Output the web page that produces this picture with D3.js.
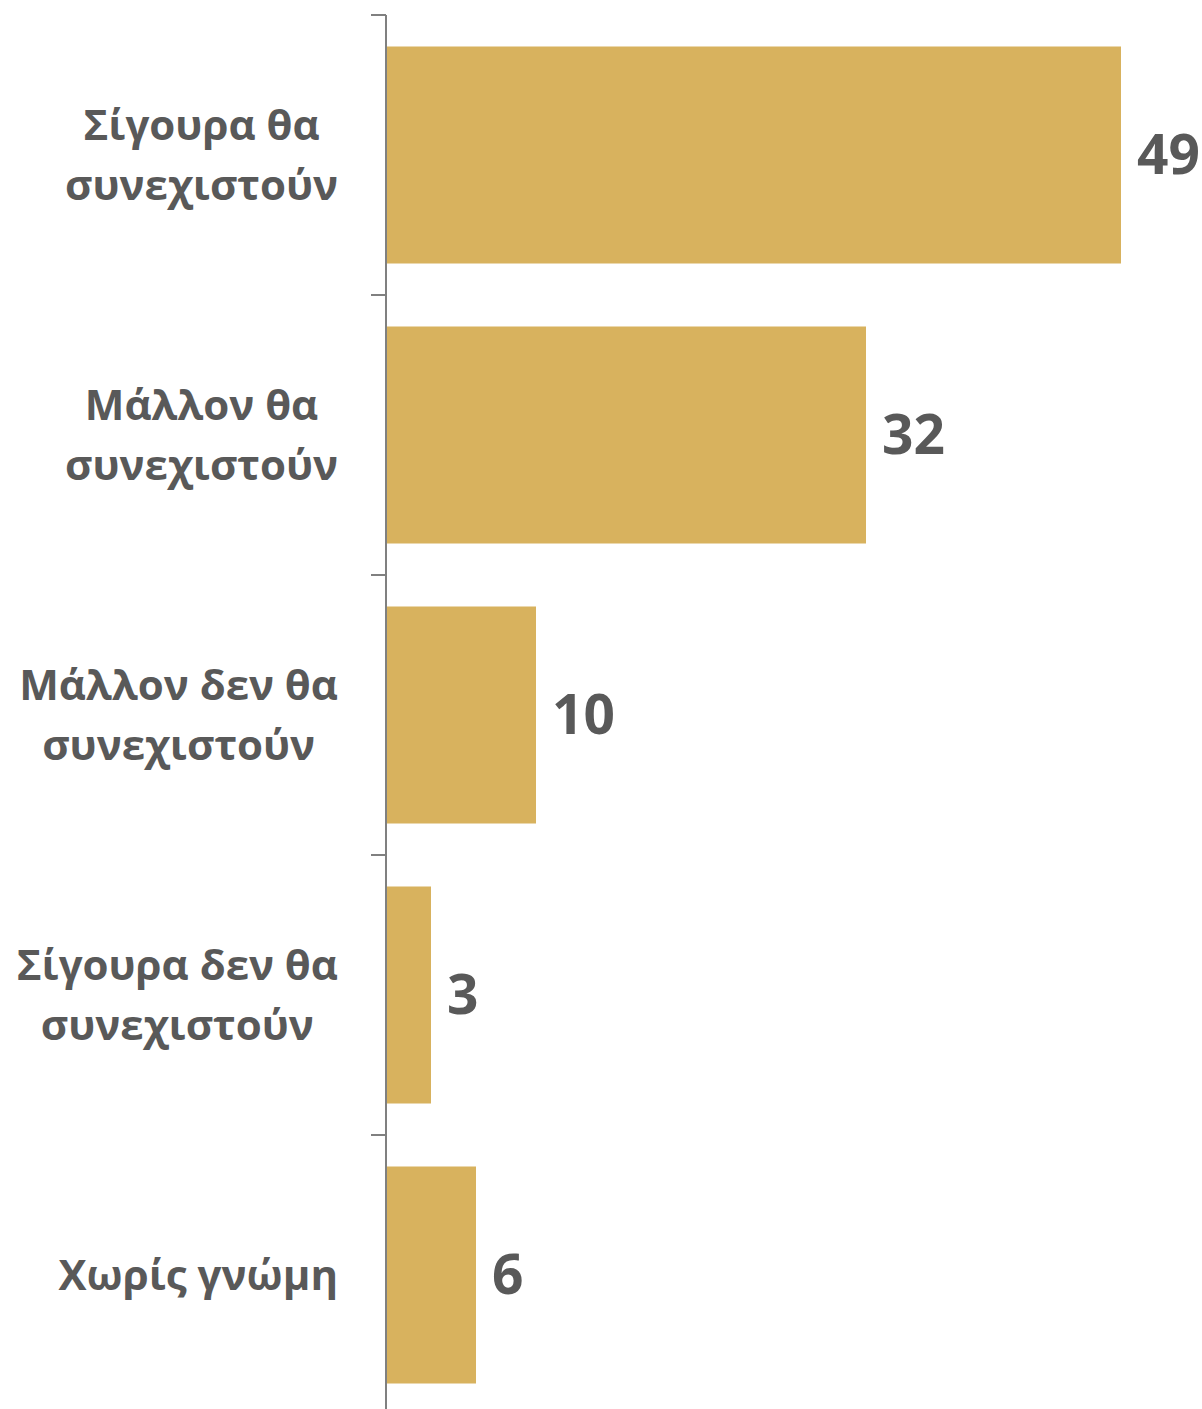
<!DOCTYPE html>
<html><head><meta charset="utf-8">
<script src="https://cdn.jsdelivr.net/npm/d3@7"></script>
<style>body{margin:0;background:#fff}svg{display:block}</style>
</head><body>
<svg id="c" width="1202" height="1409"></svg>
<script>
const categories = ["Σίγουρα θα συνεχιστούν","Μάλλον θα συνεχιστούν","Μάλλον δεν θα συνεχιστούν","Σίγουρα δεν θα συνεχιστούν","Χωρίς γνώμη"];
const categoryLines = [["Σίγουρα θα","συνεχιστούν"],["Μάλλον θα","συνεχιστούν"],["Μάλλον δεν θα","συνεχιστούν"],["Σίγουρα δεν θα","συνεχιστούν"],["Χωρίς γνώμη"]];
const values = [49,32,10,3,6];

const svg = d3.select("#c");
const x0 = 386;
const x = d3.scaleLinear().domain([0,49]).range([x0, 1121]);
const y = d3.scaleBand().domain(categories).range([15,1415]).paddingInner(0.225).paddingOuter(0.1125);

const fontFam = "'Open Sans', sans-serif";
const txtColor = "#595959";

svg.selectAll("rect.bar").data(values).join("rect")
  .attr("class","bar")
  .attr("x", x0)
  .attr("y",(d,i)=>y(categories[i]))
  .attr("width", d=>x(d)-x0)
  .attr("height", y.bandwidth())
  .attr("fill","#D8B25E");

// axis line + ticks between bands
const boundaries = d3.range(categories.length+1).map(i=>15+i*280);
svg.append("line").attr("x1",x0).attr("x2",x0).attr("y1",15).attr("y2",1415)
  .attr("stroke","#808080").attr("stroke-width",2);
svg.selectAll("line.tick").data(boundaries).join("line").attr("class","tick")
  .attr("x1",371).attr("x2",x0).attr("y1",d=>d).attr("y2",d=>d)
  .attr("stroke","#808080").attr("stroke-width",2);

// category labels
const labelRight = 338;
categoryLines.forEach((lines,i)=>{
  const cy = y(categories[i]) + y.bandwidth()/2;
  const g = svg.append("g");
  const lh = 60;
  const texts = lines.map((l,j)=> g.append("text")
    .attr("y", cy + (j-(lines.length-1)/2)*lh)
    .attr("dy","0.35em")
    .attr("font-family",fontFam).attr("font-weight",700).attr("font-size",42)
    .attr("fill",txtColor).attr("text-anchor","middle").text(l));
  const w = d3.max(texts, t=>t.node().getComputedTextLength());
  texts.forEach(t=>t.attr("x", labelRight - w/2));
});

// value labels
svg.selectAll("text.val").data(values).join("text").attr("class","val")
  .attr("x", d=>x(d)+16)
  .attr("y",(d,i)=>y(categories[i])+y.bandwidth()/2)
  .attr("dy","0.35em")
  .attr("font-family",fontFam).attr("font-weight",700).attr("font-size",55)
  .attr("fill",txtColor).text(d=>d);
</script>
</body></html>
